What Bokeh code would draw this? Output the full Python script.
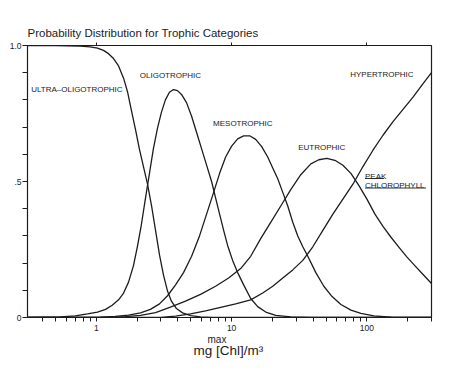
from bokeh.plotting import figure
from bokeh.models import FixedTicker, LogAxis, Label, PrintfTickFormatter, Title
from bokeh.embed import file_html
from bokeh.resources import INLINE

# ---- data (x: peak chlorophyll mg/m3, y: probability) ----
ultra_x = [0.31, 0.5, 0.76, 0.90, 1.02, 1.13, 1.23, 1.34, 1.46, 1.59, 1.70, 1.82, 1.95, 2.08, 2.23, 2.39,
           2.56, 2.74, 2.93, 3.14, 3.36, 3.59, 3.91, 4.34, 4.97, 5.89, 7.23, 300]
ultra_y = [1.0, 1.0, 0.998, 0.995, 0.99, 0.982, 0.97, 0.952, 0.925, 0.88, 0.83, 0.76, 0.69, 0.62, 0.555, 0.49,
           0.41, 0.32, 0.23, 0.155, 0.097, 0.06, 0.033, 0.017, 0.007, 0.002, 0.0, 0.0]

oligo_x = [0.31, 0.54, 0.70, 0.86, 1.02, 1.17, 1.31, 1.46, 1.59, 1.73, 1.88, 2.01, 2.15, 2.31, 2.47, 2.64,
           2.83, 3.03, 3.24, 3.47, 3.72, 3.98, 4.26, 4.64, 5.06, 5.51, 6.00, 6.53, 7.11, 7.61, 8.15, 8.73,
           9.34, 10.17, 11.08, 12.27, 13.83, 15.58, 17.86, 21.18, 27.35, 38.5, 300]
oligo_y = [0.0, 0.002, 0.006, 0.013, 0.02, 0.03, 0.045, 0.065, 0.09, 0.13, 0.19, 0.26, 0.34, 0.44, 0.53, 0.62,
           0.695, 0.755, 0.80, 0.828, 0.838, 0.834, 0.82, 0.79, 0.74, 0.68, 0.62, 0.56, 0.50, 0.44, 0.38, 0.32,
           0.265, 0.21, 0.165, 0.12, 0.07, 0.04, 0.02, 0.008, 0.002, 0.0, 0.0]

meso_x = [0.31, 1.07, 1.38, 1.73, 2.12, 2.51, 2.93, 3.36, 3.85, 4.41, 5.06, 5.79, 6.53, 7.36, 8.15, 9.03,
          10.0, 11.08, 12.27, 13.59, 15.06, 16.68, 18.48, 20.13, 21.92, 23.87, 25.99, 28.30, 30.83, 33.57,
          36.56, 41.91, 48.03, 55.06, 64.19, 76.12, 90.29, 112.7, 150.6, 211.8, 300]
meso_y = [0.0, 0.001, 0.004, 0.009, 0.017, 0.03, 0.05, 0.08, 0.12, 0.165, 0.225, 0.3, 0.38, 0.46, 0.53, 0.59,
          0.63, 0.657, 0.668, 0.668, 0.655, 0.628, 0.59, 0.55, 0.51, 0.46, 0.41, 0.35, 0.30, 0.26,
          0.225, 0.165, 0.115, 0.078, 0.048, 0.027, 0.015, 0.006, 0.001, 0.0, 0.0]

eutro_x = [0.31, 1.27, 1.64, 2.12, 2.74, 3.53, 4.56, 5.89, 7.61, 9.50, 11.66, 13.83, 16.40, 19.45, 23.07,
           27.35, 32.44, 38.48, 44.10, 50.55, 57.94, 66.42, 76.12, 87.27, 100, 114.6, 131.4, 150.6, 172.6,
           197.8, 226.7, 259.9, 300]
eutro_y = [0.0, 0.0, 0.003, 0.008, 0.018, 0.038, 0.06, 0.085, 0.115, 0.145, 0.18, 0.225, 0.29, 0.35, 0.41,
           0.47, 0.525, 0.565, 0.58, 0.585, 0.578, 0.56, 0.53, 0.485, 0.435, 0.38, 0.335, 0.295, 0.258,
           0.222, 0.19, 0.158, 0.125]

hyper_x = [0.31, 2.98, 3.85, 4.97, 6.42, 8.29, 10.71, 13.83, 16.97, 20.13, 23.87, 28.30, 33.57, 39.81, 47.22,
           56.01, 66.42, 78.77, 93.41, 110.8, 131.4, 155.8, 184.8, 219.1, 259.9, 300]
hyper_y = [0.0, 0.0, 0.005, 0.013, 0.024, 0.037, 0.05, 0.065, 0.09, 0.115, 0.145, 0.175, 0.21, 0.26, 0.32,
           0.38, 0.435, 0.49, 0.555, 0.615, 0.67, 0.72, 0.765, 0.81, 0.86, 0.9]

x_major = [1, 10, 100]
x_minor = [0.4, 0.5, 0.6, 0.7, 0.8, 0.9, 2, 3, 4, 5, 6, 7, 8, 9, 20, 30, 40, 50, 60, 70, 80, 90, 200, 300]
x_labels = {1: "1", 10: "10", 100: "100"}
y_major = [0, 0.5, 1.0]
y_minor = [0.1, 0.2, 0.3, 0.4, 0.6, 0.7, 0.8, 0.9]
y_labels = {0: "0", 0.5: ".5", 1: "1.0"}

INK = "#1c1c1c"
FONT = "Liberation Sans"

p = figure(width=450, height=377, x_axis_type="log", x_range=(0.31, 300), y_range=(0, 1),
           output_backend="svg", toolbar_location=None,
           min_border_left=27, min_border_right=19, min_border_top=45, min_border_bottom=60,
           title="Probability Distribution for Trophic Categories")
p.title.text_font = FONT
p.title.text_font_size = "11.5px"
p.title.text_font_style = "normal"
p.title.text_color = INK
p.title.align = "left"
p.title.offset = 0
p.title.standoff = 7

p.xgrid.visible = False
p.ygrid.visible = False
p.outline_line_color = INK
p.outline_line_width = 1.2
p.background_fill_color = "white"
p.border_fill_color = "white"

for xs, ys in [(ultra_x, ultra_y), (oligo_x, oligo_y), (meso_x, meso_y), (eutro_x, eutro_y), (hyper_x, hyper_y)]:
    p.line(xs, ys, line_color=INK, line_width=1.3, line_join="round")

xa = p.xaxis[0]
xa.ticker = FixedTicker(ticks=x_major, minor_ticks=x_minor)
xa.formatter = PrintfTickFormatter(format="%d")
xa.major_label_overrides = x_labels
ya = p.yaxis[0]
ya.ticker = FixedTicker(ticks=y_major, minor_ticks=y_minor)
ya.major_label_overrides = y_labels
for ax in (xa, ya):
    ax.axis_line_color = INK
    ax.major_tick_line_color = INK
    ax.minor_tick_line_color = INK
    ax.major_tick_in = 0
    ax.minor_tick_in = 0
    ax.major_tick_out = 5
    ax.major_label_text_font = FONT
    ax.major_label_text_font_size = "8.5px"
    ax.major_label_text_color = INK
xa.major_tick_out = 4
xa.minor_tick_out = 4
ya.minor_tick_out = 5
xa.major_label_standoff = 3
ya.major_label_standoff = 1

top = LogAxis(ticker=FixedTicker(ticks=x_major, minor_ticks=[]), axis_line_color=None,
              major_tick_in=0, major_tick_out=3, major_tick_line_color=INK,
              major_label_text_font_size="1px", major_label_text_alpha=0)
p.add_layout(top, "above")

t_max = Title(text="max", align="left", offset=180, text_font=FONT, text_font_size="10px",
              text_font_style="normal", text_color=INK, standoff=-4)
t_unit = Title(text="mg [Chl]/m\u00b3", align="left", offset=166, text_font=FONT, text_font_size="13.5px",
               text_font_style="normal", text_color=INK, standoff=-3)
p.add_layout(t_max, "below")
p.add_layout(t_unit, "below")

def lab(x, y, text, size="8px", align="left", baseline="middle"):
    p.add_layout(Label(x=x, y=y, text=text, text_font=FONT, text_font_size=size,
                       text_color=INK, text_align=align, text_baseline=baseline))

lab(0.33, 0.838, "ULTRA\u2013OLIGOTROPHIC")
lab(3.53, 0.89, "OLIGOTROPHIC", align="center")
lab(12.1, 0.713, "MESOTROPHIC", align="center")
lab(46.4, 0.625, "EUTROPHIC", align="center")
lab(129, 0.893, "HYPERTROPHIC", align="center")
lab(96.7, 0.518, "PEAK", baseline="alphabetic")
lab(96.7, 0.485, "CHLOROPHYLL", baseline="alphabetic")
p.segment(x0=[96.7, 96.7], y0=[0.511, 0.476], x1=[133.6, 273], y1=[0.511, 0.476], line_color=INK, line_width=0.9)

open("out.html", "w").write(file_html(p, INLINE))
